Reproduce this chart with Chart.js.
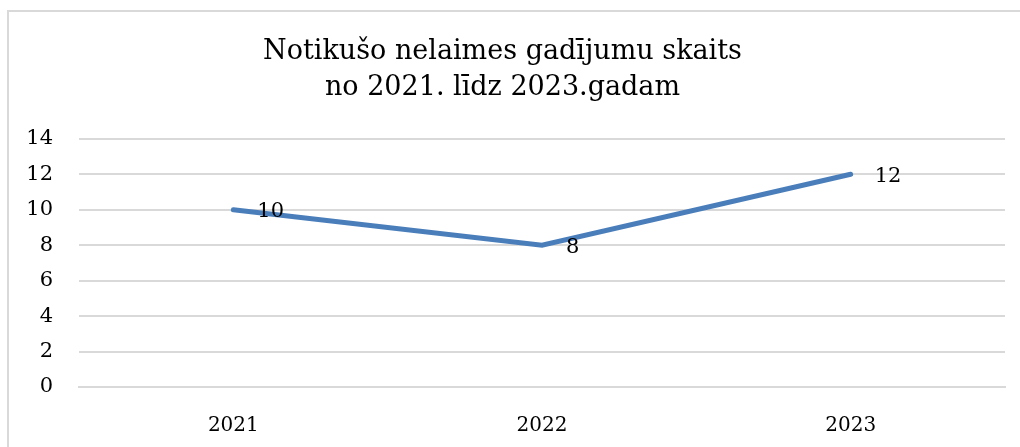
<!DOCTYPE html>
<html>
<head>
<meta charset="utf-8">
<script src="https://cdn.jsdelivr.net/npm/chart.js@4/dist/chart.umd.min.js"></script>
<style>
  html, body { margin: 0; padding: 0; background: #fff; }
  #wrap { width: 1020px; height: 447px; }
</style>
</head>
<body>
<div id="wrap"><canvas id="myChart" width="1020" height="447"></canvas></div>
<script>
"use strict";
const years = ["2021", "2022", "2023"];
const accidents = [10, 8, 12];
const titleLines = ["Notikušo nelaimes gadījumu skaits", "no 2021. līdz 2023.gadam"];
const yTicks = [0, 2, 4, 6, 8, 10, 12, 14];

const FONT = "'DejaVu Serif', 'Liberation Serif', serif";
const lineColor = "#4a7ebb";

// frame lines like the original (left and top only)
const framePlugin = {
    id: "frame",
    beforeDraw(chart) {
        const ctx = chart.ctx;
        ctx.save();
        ctx.strokeStyle = "#d9d9d9";
        ctx.lineWidth = 2;
        ctx.beginPath();
        ctx.moveTo(8, 447);
        ctx.lineTo(8, 11);
        ctx.lineTo(1020, 11);
        ctx.stroke();
        ctx.restore();
    }
};

// value labels to the right of each point
const valueLabels = {
    id: "valueLabels",
    afterDatasetsDraw(chart) {
        const ctx = chart.ctx;
        const meta = chart.getDatasetMeta(0);
        ctx.save();
        ctx.font = "21px " + FONT;
        ctx.fillStyle = "#000";
        ctx.textAlign = "left";
        ctx.textBaseline = "middle";
        meta.data.forEach((pt, i) => {
            ctx.fillText(String(accidents[i]), pt.x + 24, pt.y + 2);
        });
        ctx.restore();
    }
};

function chartMaken() {
    return new Chart("myChart", {
        type: "line",
        data: {
            labels: years,
            datasets: [{
                data: accidents,
                borderColor: lineColor,
                borderWidth: 5,
                borderCapStyle: "round",
                borderJoinStyle: "miter",
                pointRadius: 0,
                pointHoverRadius: 0,
                tension: 0,
                fill: false
            }]
        },
        options: {
            responsive: false,
            animation: false,
            events: [],
            layout: { padding: { top: 0, right: 15, bottom: 0, left: 0 } },
            plugins: {
                legend: { display: false },
                tooltip: { enabled: false },
                title: {
                    display: true,
                    text: titleLines,
                    color: "#000",
                    font: { family: FONT, size: 27, weight: "normal", lineHeight: 1.33 },
                    padding: { top: 34, bottom: 33 }
                }
            },
            scales: {
                x: {
                    offset: true,
                    grid: { display: false, drawTicks: false },
                    border: { display: true, color: "#d9d9d9", width: 2 },
                    ticks: {
                        color: "#000",
                        padding: 27,
                        font: { family: FONT, size: 20 }
                    },
                    afterFit(scale) { scale.height = 60; }
                },
                y: {
                    min: 0,
                    max: 14,
                    afterBuildTicks(scale) {
                        scale.ticks = yTicks.map(v => ({ value: v }));
                    },
                    grid: { color: "#d9d9d9", lineWidth: 2, drawTicks: false },
                    border: { display: false },
                    ticks: {
                        color: "#000",
                        padding: 26,
                        font: { family: FONT, size: 21 }
                    },
                    afterFit(scale) { scale.width = 79; }
                }
            }
        },
        plugins: [framePlugin, valueLabels]
    });
}

const chart = chartMaken();
</script>
</body>
</html>
